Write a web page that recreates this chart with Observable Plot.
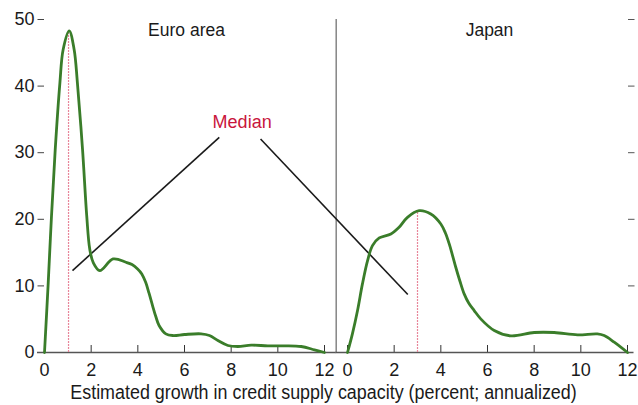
<!DOCTYPE html>
<html>
<head>
<meta charset="utf-8">
<script src="https://cdn.jsdelivr.net/npm/d3@7"></script>
<script src="https://cdn.jsdelivr.net/npm/@observablehq/plot@0.6"></script>
<style>
  body { margin: 0; background: #fff; }
  #chart { width: 638px; }
  .xlabel {
    font-family: "Liberation Sans", Arial, sans-serif;
    font-size: 20px; line-height: 25px; height: 25px;
    width: 638px; text-align: center; color: #1a1a1a; white-space: nowrap;
    transform: translateX(4.5px) scaleX(0.895); transform-origin: 50% 50%;
  }
</style>
</head>
<body>
<div id="chart"></div>
<div class="xlabel">Estimated growth in credit supply capacity (percent; annualized)</div>
<script>
// ---- data ----
const panels = ["Euro area", "Japan"];

const euroX = [0, 0.16, 0.30, 0.46, 0.66, 0.80, 1.06, 1.27, 1.41, 1.63, 1.81, 1.94, 2.09, 2.37, 2.94, 3.49, 3.75, 3.99, 4.17, 4.34, 4.48, 4.63, 4.77, 4.91, 5.2, 5.5, 6.0, 6.71, 7.07, 7.43, 7.86, 8.29, 8.86, 9.57, 10.29, 11.0, 11.57, 12];
const euroY = [0, 10.5, 20.5, 30.5, 40.5, 45.5, 48.3, 45.5, 40.5, 30.5, 20.5, 15.5, 13.5, 12.3, 14.05, 13.55, 13.2, 12.55, 11.8, 10.5, 8.9, 7.05, 5.4, 4.05, 2.8, 2.55, 2.7, 2.8, 2.55, 1.8, 1.05, 0.9, 1.1, 1.0, 1.0, 0.9, 0.4, 0];

const japanX = [0, 0.21, 0.43, 0.64, 0.86, 1.07, 1.36, 1.86, 2.21, 2.57, 3.07, 3.57, 4.0, 4.2, 4.36, 4.5, 4.64, 4.82, 5.0, 5.2, 5.43, 5.71, 6.29, 7.0, 8.0, 8.86, 9.86, 10.71, 11.0, 11.43, 12];
const japanY = [0, 2.8, 6.3, 10.3, 13.8, 16.05, 17.2, 17.8, 18.8, 20.3, 21.3, 20.8, 19.3, 17.9, 16.3, 14.6, 12.8, 10.7, 8.8, 7.4, 6.3, 5.05, 3.3, 2.5, 3.0, 3.0, 2.65, 2.8, 2.55, 1.55, 0];

const medianPanels = ["Euro area", "Japan"];
const medianX = [1.03, 3.0];
const medianY = [48.3, 21.3];

const yTicks = [0, 10, 20, 30, 40, 50];
const xTicks = [0, 2, 4, 6, 8, 10, 12];
const xDomain = [0, 12];
const yDomain = [0, 50];

// annotation: "Median" label and its two pointer lines (data coordinates)
const medianLabel = {panel: "Euro area", x: 8.47, y: 34.5, text: "Median"};
const pointerStartX = [1.2, 9.26];
const pointerStartY = [12.3, 32.05];
const pointerEndPanel = ["Euro area", "Japan"];
const pointerEndX = [7.49, 2.57];
const pointerEndY = [32.3, 8.7];

// ---- build ----
const FONT = '"Liberation Sans", Arial, sans-serif';
const GREEN = "#3a7d2a";
const RED = "#c9163c";
const PINK = "#e8869a";

const gapUnits = 1; // facet gap expressed in x units
const panelOffset = xDomain[1] + gapUnits; // Japan x=0 in Euro-panel coordinates

const curves = euroX.map((x, i) => ({panel: "Euro area", x, y: euroY[i]}))
  .concat(japanX.map((x, i) => ({panel: "Japan", x, y: japanY[i]})));
const medians = medianPanels.map((p, i) => ({panel: p, x: medianX[i], y: medianY[i]}));
const pointers = pointerStartX.map((x, i) => ({
  panel: "Euro area",
  x1: x, y1: pointerStartY[i],
  x2: pointerEndX[i] + (pointerEndPanel[i] === "Japan" ? panelOffset : 0),
  y2: pointerEndY[i]
}));

const chart = Plot.plot({
  width: 638,
  height: 380,
  marginLeft: 43.33,
  marginRight: 11.33,
  marginTop: 19,
  marginBottom: 28,
  style: {fontFamily: FONT, fontSize: "18px", color: "#1a1a1a", background: "white", overflow: "visible"},
  x: {domain: xDomain},
  y: {domain: yDomain},
  fx: {domain: panels, paddingInner: gapUnits / (xDomain[1] + gapUnits), paddingOuter: 0, axis: null},
  marks: [
    // panel divider
    Plot.ruleX([{panel: "Euro area", x: xDomain[1] + gapUnits / 2}], {fx: "panel", x: "x", stroke: "#666", strokeWidth: 1.2}),
    // y axes
    Plot.axisY({ticks: yTicks, anchor: "left", tickSize: 6.5, tickPadding: 3.5, label: null, stroke: "#444", fontSize: 18}),
    Plot.axisY({ticks: yTicks.slice(1), anchor: "right", tickSize: 6.5, tickFormat: () => "", label: null, stroke: "#555"}),
    // x axis: inward ticks + labels
    Plot.axisX({ticks: xTicks, tickSize: 7, dy: -7, tickFormat: () => "", label: null, stroke: "#333"}),
    Plot.axisX({ticks: xTicks, tickSize: 0, tickPadding: 11, label: null, fontSize: 18}),
    // baselines
    Plot.ruleY([{panel: "Euro area", y: 0}], {fx: "panel", y: "y", insetLeft: -7, insetRight: -11.67, stroke: "#555", strokeWidth: 1.6}),
    Plot.ruleY([{panel: "Japan", y: 0}], {fx: "panel", y: "y", insetLeft: -11.67, insetRight: -6.5, stroke: "#555", strokeWidth: 1.6}),
    // medians
    Plot.ruleX(medians, {fx: "panel", x: "x", y1: 0, y2: "y", stroke: PINK, strokeWidth: 1.2, strokeDasharray: "2,1"}),
    // pointer lines
    Plot.link(pointers, {fx: "panel", x1: "x1", y1: "y1", x2: "x2", y2: "y2", stroke: "#1a1a1a", strokeWidth: 1.6}),
    // density curves
    Plot.line(curves, {fx: "panel", x: "x", y: "y", z: "panel", curve: "catmull-rom", stroke: GREEN, strokeWidth: 2.8}),
    // panel titles
    Plot.text(panels, {fx: d => d, text: d => d, frameAnchor: "top", dy: 4, dx: 2, fontSize: 17.5, fill: "#1a1a1a"}),
    // median label
    Plot.text([medianLabel], {fx: "panel", x: "x", y: "y", text: "text", fill: RED, fontSize: 18})
  ]
});
document.getElementById("chart").appendChild(chart);
</script>
</body>
</html>
